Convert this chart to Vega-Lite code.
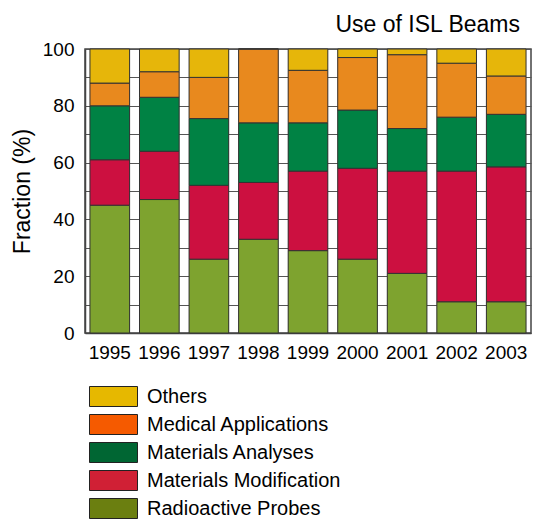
{
  "$schema": "https://vega.github.io/schema/vega-lite/v6.json",
  "autosize": {"type": "none"},
  "width": 446,
  "height": 284,
  "padding": {"left": 85, "top": 49, "right": 4, "bottom": 187},
  "background": "white",
  "config": {
    "font": "Liberation Sans",
    "view": {"stroke": "#444", "strokeWidth": 1.5}
  },
  "title": {
    "text": "Use of ISL Beams",
    "anchor": "end",
    "fontSize": 23,
    "fontWeight": "normal",
    "color": "black",
    "baseline": "alphabetic",
    "offset": -15,
    "dx": -11
  },
  "data": {
    "values": [
      {"year": "1995", "cat": "Radioactive Probes", "k": 1, "v": 45},
      {"year": "1995", "cat": "Materials Modification", "k": 2, "v": 16},
      {"year": "1995", "cat": "Materials Analyses", "k": 3, "v": 19},
      {"year": "1995", "cat": "Medical Applications", "k": 4, "v": 8},
      {"year": "1995", "cat": "Others", "k": 5, "v": 12},
      {"year": "1996", "cat": "Radioactive Probes", "k": 1, "v": 47},
      {"year": "1996", "cat": "Materials Modification", "k": 2, "v": 17},
      {"year": "1996", "cat": "Materials Analyses", "k": 3, "v": 19},
      {"year": "1996", "cat": "Medical Applications", "k": 4, "v": 9},
      {"year": "1996", "cat": "Others", "k": 5, "v": 8},
      {"year": "1997", "cat": "Radioactive Probes", "k": 1, "v": 26},
      {"year": "1997", "cat": "Materials Modification", "k": 2, "v": 26},
      {"year": "1997", "cat": "Materials Analyses", "k": 3, "v": 23.5},
      {"year": "1997", "cat": "Medical Applications", "k": 4, "v": 14.5},
      {"year": "1997", "cat": "Others", "k": 5, "v": 10},
      {"year": "1998", "cat": "Radioactive Probes", "k": 1, "v": 33},
      {"year": "1998", "cat": "Materials Modification", "k": 2, "v": 20},
      {"year": "1998", "cat": "Materials Analyses", "k": 3, "v": 21},
      {"year": "1998", "cat": "Medical Applications", "k": 4, "v": 26},
      {"year": "1998", "cat": "Others", "k": 5, "v": 0},
      {"year": "1999", "cat": "Radioactive Probes", "k": 1, "v": 29},
      {"year": "1999", "cat": "Materials Modification", "k": 2, "v": 28},
      {"year": "1999", "cat": "Materials Analyses", "k": 3, "v": 17},
      {"year": "1999", "cat": "Medical Applications", "k": 4, "v": 18.5},
      {"year": "1999", "cat": "Others", "k": 5, "v": 7.5},
      {"year": "2000", "cat": "Radioactive Probes", "k": 1, "v": 26},
      {"year": "2000", "cat": "Materials Modification", "k": 2, "v": 32},
      {"year": "2000", "cat": "Materials Analyses", "k": 3, "v": 20.5},
      {"year": "2000", "cat": "Medical Applications", "k": 4, "v": 18.5},
      {"year": "2000", "cat": "Others", "k": 5, "v": 3},
      {"year": "2001", "cat": "Radioactive Probes", "k": 1, "v": 21},
      {"year": "2001", "cat": "Materials Modification", "k": 2, "v": 36},
      {"year": "2001", "cat": "Materials Analyses", "k": 3, "v": 15},
      {"year": "2001", "cat": "Medical Applications", "k": 4, "v": 26},
      {"year": "2001", "cat": "Others", "k": 5, "v": 2},
      {"year": "2002", "cat": "Radioactive Probes", "k": 1, "v": 11},
      {"year": "2002", "cat": "Materials Modification", "k": 2, "v": 46},
      {"year": "2002", "cat": "Materials Analyses", "k": 3, "v": 19},
      {"year": "2002", "cat": "Medical Applications", "k": 4, "v": 19},
      {"year": "2002", "cat": "Others", "k": 5, "v": 5},
      {"year": "2003", "cat": "Radioactive Probes", "k": 1, "v": 11},
      {"year": "2003", "cat": "Materials Modification", "k": 2, "v": 47.5},
      {"year": "2003", "cat": "Materials Analyses", "k": 3, "v": 18.5},
      {"year": "2003", "cat": "Medical Applications", "k": 4, "v": 13.5},
      {"year": "2003", "cat": "Others", "k": 5, "v": 9.5}
    ]
  },
  "encoding": {
    "x": {
      "field": "year",
      "type": "ordinal",
      "scale": {"paddingInner": 0.2, "paddingOuter": 0.1},
      "axis": {
        "title": null,
        "labelAngle": 0,
        "labelFontSize": 19,
        "labelColor": "black",
        "labelPadding": 10,
        "ticks": false,
        "domainColor": "#444",
        "domainWidth": 1.5
      }
    },
    "y": {
      "field": "v",
      "type": "quantitative",
      "stack": "zero",
      "scale": {"domain": [0, 100], "nice": false},
      "axis": {
        "title": "Fraction (%)",
        "titleFontSize": 23,
        "titleFontWeight": "normal",
        "titleColor": "black",
        "titlePadding": 8,
        "values": [0, 10, 20, 30, 40, 50, 60, 70, 80, 90, 100],
        "labelExpr": "datum.value % 20 === 0 ? datum.label : ''",
        "labelFontSize": 19,
        "labelColor": "black",
        "labelPadding": 11,
        "ticks": false,
        "grid": true,
        "gridColor": "#555",
        "gridWidth": 1,
        "gridOpacity": 1,
        "domainColor": "#444",
        "domainWidth": 1.5
      }
    },
    "order": {"field": "k", "type": "quantitative"}
  },
  "layer": [
    {
      "mark": {"type": "bar", "strokeWidth": 0},
      "encoding": {
        "fill": {
          "field": "cat",
          "type": "nominal",
          "scale": {
            "domain": ["Others", "Medical Applications", "Materials Analyses", "Materials Modification", "Radioactive Probes"],
            "range": ["#e6b800", "#f55a00", "#006633", "#d02035", "#6b7f10"]
          },
          "legend": {
            "title": null,
            "orient": "none",
            "legendX": 18,
            "legendY": 337,
            "direction": "vertical",
            "symbolType": "M-2.4,-1H2.4V1H-2.4Z",
            "symbolSize": 400,
            "symbolStrokeColor": "#222",
            "symbolStrokeWidth": 1,
            "symbolOpacity": 1,
            "labelFontSize": 20,
            "labelColor": "black",
            "labelOffset": 23,
            "rowPadding": 3,
            "labelLimit": 400
          }
        }
      }
    },
    {
      "mark": {"type": "bar", "stroke": "#333", "strokeWidth": 1},
      "encoding": {
        "color": {
          "field": "cat",
          "type": "nominal",
          "scale": {
            "domain": ["Others", "Medical Applications", "Materials Analyses", "Materials Modification", "Radioactive Probes"],
            "range": ["#e6b60a", "#e8891e", "#008244", "#cc1040", "#7ea32f"]
          },
          "legend": null
        }
      }
    }
  ]
}
